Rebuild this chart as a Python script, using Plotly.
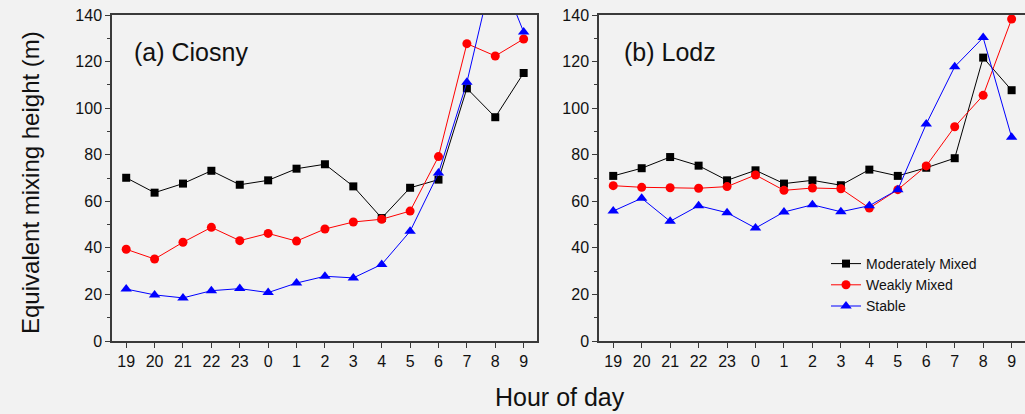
import plotly.graph_objects as go

hours = ["19", "20", "21", "22", "23", "0", "1", "2", "3", "4", "5", "6", "7", "8", "9"]
xpos = list(range(len(hours)))

# (a) Ciosny
ciosny_moderate = [70.1, 63.7, 67.6, 73.1, 67.1, 69.0, 74.0, 75.9, 66.4, 52.8, 65.8, 69.3, 108.5, 96.1, 115.1]
ciosny_weak = [39.4, 35.2, 42.4, 48.8, 43.1, 46.2, 42.9, 48.1, 51.1, 52.3, 55.8, 79.2, 127.7, 122.4, 129.7]
ciosny_stable = [22.3, 19.8, 18.5, 21.6, 22.5, 20.8, 24.9, 27.8, 27.1, 32.9, 47.1, 72.1, 111.1, 163.0, 132.7]

# (b) Lodz
lodz_moderate = [70.9, 74.2, 79.0, 75.3, 69.0, 73.3, 67.6, 69.0, 66.9, 73.6, 70.9, 74.4, 78.5, 121.7, 107.7]
lodz_weak = [66.7, 66.0, 65.8, 65.6, 66.3, 71.3, 64.7, 65.7, 65.4, 57.1, 65.0, 75.2, 92.0, 105.5, 138.3]
lodz_stable = [55.8, 61.3, 51.4, 58.1, 55.1, 48.5, 55.4, 58.5, 55.5, 58.1, 65.0, 93.2, 117.8, 130.3, 87.5]

series_names = ["Moderately Mixed", "Weakly Mixed", "Stable"]
colors = ["#000000", "#ff0000", "#0000ff"]
symbols = ["square", "circle", "triangle-up"]
sizes = [8, 9, 10]

FONT = "Arial, Liberation Sans, sans-serif"
BG = "#f2f2f2"
AXC = "#3a3a3a"

fig = go.Figure()
panels = [
    ("x", "y", [ciosny_moderate, ciosny_weak, ciosny_stable], False),
    ("x2", "y2", [lodz_moderate, lodz_weak, lodz_stable], True),
]
for xa, ya, data, show in panels:
    for name, vals, c, s, sz in zip(series_names, data, colors, symbols, sizes):
        fig.add_trace(go.Scatter(
            x=xpos, y=vals, name=name, mode="lines+markers",
            line=dict(color=c, width=1),
            marker=dict(color=c, symbol=s, size=sz),
            xaxis=xa, yaxis=ya, showlegend=show, cliponaxis=True,
        ))

W, H = 1025, 414
def px(v):
    return v / W
def py(v):
    return 1 - v / H

xcommon = dict(
    range=[-0.5, 14.47], tickmode="array", tickvals=xpos, ticktext=hours,
    showline=True, linecolor=AXC, linewidth=1.5, mirror=True,
    ticks="outside", ticklen=5, tickcolor=AXC, tickwidth=1,
    showgrid=False, zeroline=False, automargin=False,
    tickfont=dict(family=FONT, size=16, color="#111111"),
)
ycommon = dict(
    range=[0, 140], tickmode="linear", tick0=0, dtick=20,
    showline=True, linecolor=AXC, linewidth=1.5, mirror=True,
    ticks="outside", ticklen=5, tickcolor=AXC, tickwidth=1,
    minor=dict(dtick=10, tick0=0, ticks="outside", ticklen=3, tickcolor=AXC, tickwidth=1, showgrid=False),
    showgrid=False, zeroline=False, automargin=False,
    tickfont=dict(family=FONT, size=16, color="#111111"),
)

fig.update_layout(
    width=W, height=H,
    margin=dict(l=0, r=0, t=0, b=0, autoexpand=False),
    paper_bgcolor=BG, plot_bgcolor=BG,
    xaxis=dict(domain=[px(112), px(537)], anchor="y", **xcommon),
    yaxis=dict(domain=[py(341), py(15)], anchor="x", **ycommon),
    xaxis2=dict(domain=[px(599), 1.0], anchor="y2", **xcommon),
    yaxis2=dict(domain=[py(341), py(15)], anchor="x2", **ycommon),
    legend=dict(
        x=px(826), y=py(248), xanchor="left", yanchor="top",
        bgcolor="rgba(0,0,0,0)", borderwidth=0,
        font=dict(family=FONT, size=14, color="#111111"),
        tracegroupgap=0, itemwidth=30,
    ),
    showlegend=True,
    annotations=[
        dict(text="(a) Ciosny", x=px(132), y=py(52), xref="paper", yref="paper",
             xanchor="left", yanchor="middle", showarrow=False,
             font=dict(family=FONT, size=25, color="#111111")),
        dict(text="(b) Lodz", x=px(622), y=py(52), xref="paper", yref="paper",
             xanchor="left", yanchor="middle", showarrow=False,
             font=dict(family=FONT, size=25, color="#111111")),
        dict(text="Hour of day", x=px(560), y=py(397), xref="paper", yref="paper",
             xanchor="center", yanchor="middle", showarrow=False,
             font=dict(family=FONT, size=25, color="#111111")),
        dict(text="Equivalent mixing height (m)", x=px(31), y=py(183), xref="paper", yref="paper",
             xanchor="center", yanchor="middle", showarrow=False, textangle=-90,
             font=dict(family=FONT, size=24, color="#111111")),
    ],
)

fig.write_html("out.html")
